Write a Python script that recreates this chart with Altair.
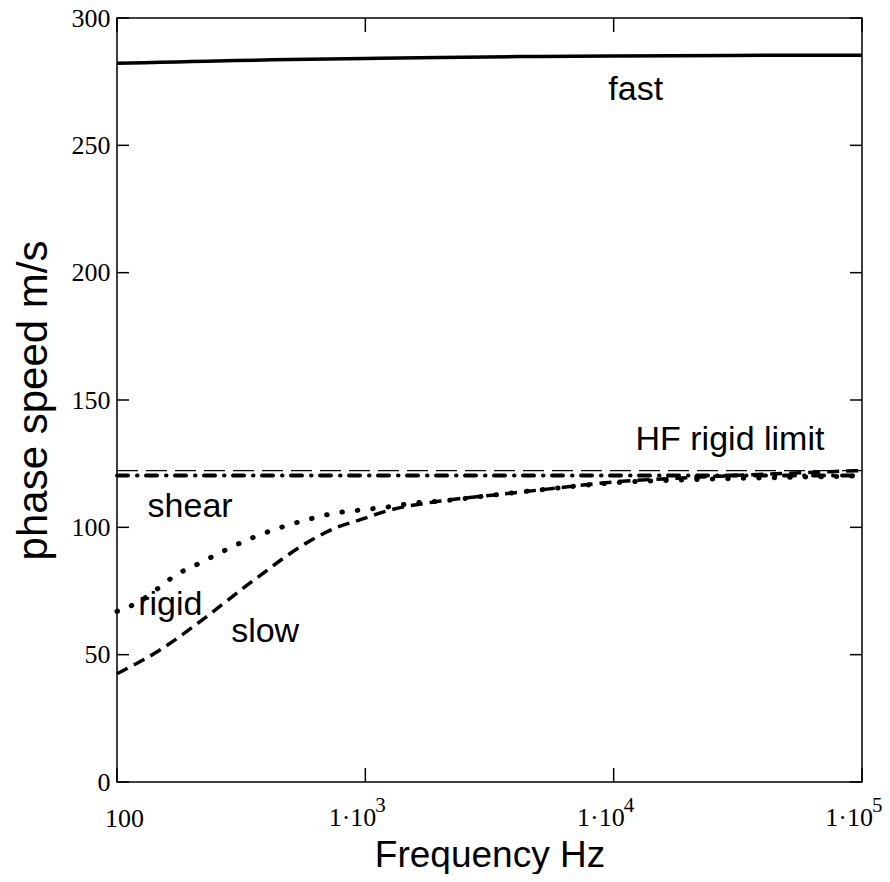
import altair as alt
import pandas as pd

# ---- data ----
fast_f = [100, 150, 200, 300, 500, 1000, 2000, 5000, 10000, 30000, 100000]
fast_v = [282.2, 282.6, 282.9, 283.3, 283.7, 284.1, 284.5, 284.9, 285.1, 285.3, 285.4]

limit_f = [100, 100000]
limit_v = [122.3, 122.3]

shear_f = [100, 100000]
shear_v = [120.4, 120.4]

rigid_f = [100, 120, 149, 168, 216, 353, 583, 757, 955, 1227, 1560, 2000, 3300, 5400,
           10000, 20000, 50000, 100000]
rigid_v = [67.0, 70.3, 76.6, 80.5, 86.0, 96.0, 103.0, 105.6, 106.8, 108.0, 109.5, 110.3,
           112.7, 115.0, 117.5, 118.7, 119.6, 120.2]

slow_f = [100, 150, 216, 353, 583, 770, 955, 1227, 2000, 3300, 5400, 10000, 20000, 50000, 100000]
slow_v = [42.5, 52.0, 63.0, 79.0, 94.0, 100.0, 103.0, 106.5, 110.3, 112.7, 115.0, 117.8,
          119.5, 121.2, 122.3]

ann_text = ["fast", "HF rigid limit", "shear", "rigid", "slow"]
ann_f = [12270, 29400, 197, 164, 395]
ann_v = [267.8, 130.3, 104.0, 65.6, 55.0]

y_ticks = [0, 50, 100, 150, 200, 250, 300]
x_ticks = [100, 1000, 10000, 100000]
dec_vals = [1000, 10000, 100000]
dec_main = ["1·10", "1·10", "1·10"]
dec_exp = ["3", "4", "5"]

W, H = 745, 764

xscale = alt.Scale(type="log", domain=[100, 100000], nice=False)
yscale = alt.Scale(domain=[0, 300], nice=False, zero=False)

x_axis = alt.Axis(
    values=[100], labelExpr="'100'", ticks=False, tickSize=0, domain=False, grid=False,
    labelFont="Liberation Serif", labelFontSize=26, labelColor="black",
    labelBaseline="alphabetic", labelPadding=44, labelOffset=7, labelFlush=False,
    title="Frequency Hz", titleFont="Liberation Sans", titleFontSize=37,
    titleFontWeight="normal", titleColor="black", titleBaseline="alphabetic", titleY=84,
)
y_axis = alt.Axis(
    values=y_ticks, ticks=False, tickSize=0, domain=False, grid=False,
    labelFont="Liberation Serif", labelFontSize=26, labelColor="black",
    labelPadding=7, labelFlush=False, labelOverlap=False,
    title="phase speed m/s", titleFont="Liberation Sans", titleFontSize=42,
    titleFontWeight="normal", titleColor="black", titleX=-62,
)

X = alt.X("f:Q", scale=xscale, axis=x_axis)
Y = alt.Y("v:Q", scale=yscale, axis=y_axis)


def df(f, v):
    return pd.DataFrame({"f": f, "v": v})


fast = alt.Chart(df(fast_f, fast_v)).mark_line(
    color="black", strokeWidth=3.5, interpolate="monotone"
).encode(x=X, y=Y)

limit = alt.Chart(df(limit_f, limit_v)).mark_line(
    color="black", strokeWidth=1.2, strokeDash=[21, 8]
).encode(x=X, y=Y)

shear = alt.Chart(df(shear_f, shear_v)).mark_line(
    color="black", strokeWidth=4, strokeDash=[11, 9, 0.5, 8.5], strokeCap="round"
).encode(x=X, y=Y)

rigid = alt.Chart(df(rigid_f, rigid_v)).mark_line(
    color="black", strokeWidth=5, strokeDash=[0.5, 15], strokeCap="round", interpolate="monotone"
).encode(x=X, y=Y)

slow = alt.Chart(df(slow_f, slow_v)).mark_line(
    color="black", strokeWidth=3.5, strokeDash=[12, 7], interpolate="monotone"
).encode(x=X, y=Y)

ann = alt.Chart(pd.DataFrame({"f": ann_f, "v": ann_v, "t": ann_text})).mark_text(
    font="Liberation Sans", fontSize=34, color="black", align="center", baseline="alphabetic"
).encode(x=X, y=Y, text="t:N")

ytick_df = pd.DataFrame({"v": y_ticks})
ytick_l = alt.Chart(ytick_df).mark_rule(color="black", strokeWidth=1.5).encode(
    y=Y, x=alt.value(0), x2=alt.value(12))
ytick_r = alt.Chart(ytick_df).mark_rule(color="black", strokeWidth=1.5).encode(
    y=Y, x=alt.value(W - 12), x2=alt.value(W))

xtick_df = pd.DataFrame({"f": x_ticks})
xtick_b = alt.Chart(xtick_df).mark_rule(color="black", strokeWidth=1.5).encode(
    x=X, y=alt.value(H), y2=alt.value(H - 14))
xtick_t = alt.Chart(xtick_df).mark_rule(color="black", strokeWidth=1.5).encode(
    x=X, y=alt.value(0), y2=alt.value(14))

dec_df = pd.DataFrame({"f": dec_vals, "m": dec_main, "e": dec_exp})
dec_main_t = alt.Chart(dec_df).mark_text(
    font="Liberation Serif", fontSize=26, color="black", align="right",
    baseline="alphabetic", dx=11
).encode(x=X, y=alt.value(H + 44), text="m:N")
dec_exp_t = alt.Chart(dec_df).mark_text(
    font="Liberation Serif", fontSize=21, color="black", align="left",
    baseline="alphabetic", dx=10
).encode(x=X, y=alt.value(H + 30), text="e:N")

chart = alt.layer(
    limit, shear, rigid, slow, fast, ann, ytick_l, ytick_r, xtick_b, xtick_t,
    dec_main_t, dec_exp_t
).properties(
    width=W, height=H,
    autosize=alt.AutoSizeParams(type="none"),
    padding={"left": 109, "top": 10, "right": 20, "bottom": 92},
    background="white",
).configure_view(stroke="black", strokeWidth=1.5)

chart.save("out.html", embed_options={"renderer": "svg", "actions": False})
